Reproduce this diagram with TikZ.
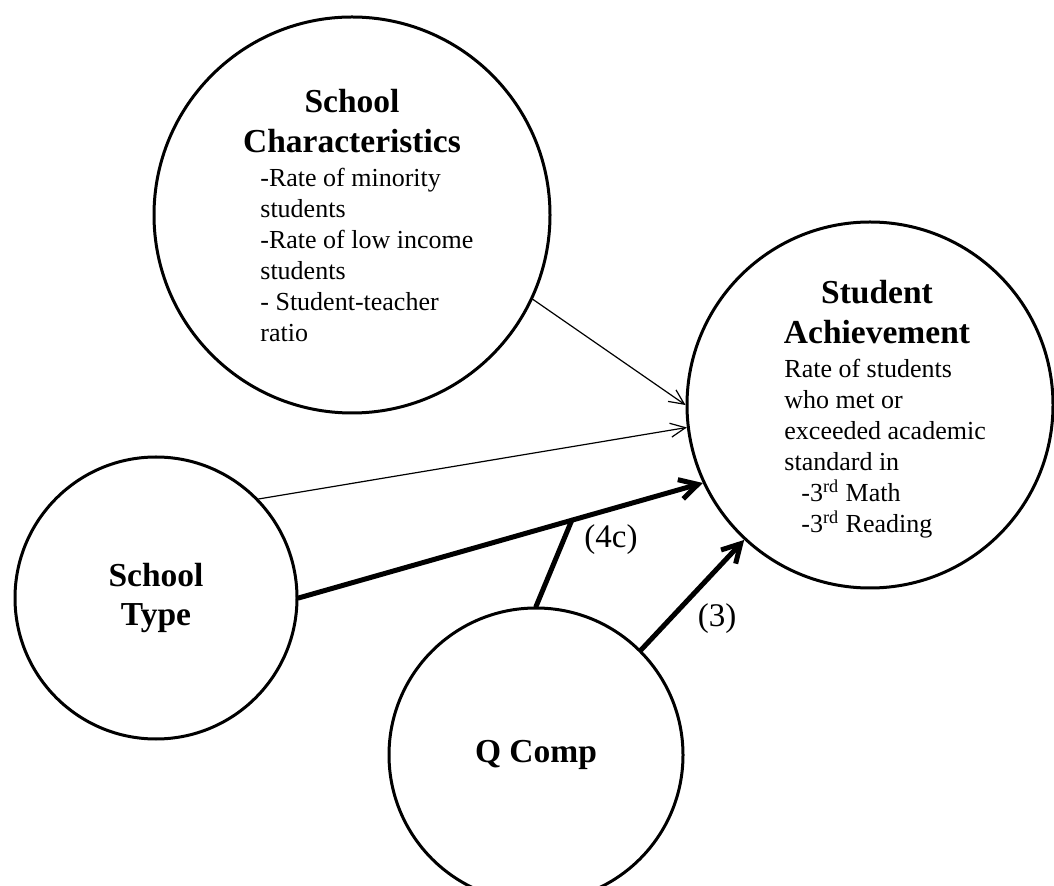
\documentclass[tikz,border=0pt]{standalone}
\usepackage{fontspec}
\setmainfont{Liberation Serif}
\usetikzlibrary{arrows.meta}

\tikzset{
  bubble/.style={draw, circle, line width=1.5pt, inner sep=0pt},
  head/.style={font=\fontsize{16.75}{19.75}\selectfont\bfseries, align=center, inner sep=0pt},
  body/.style={font=\fontsize{13}{15.5}\selectfont, align=left, inner sep=0pt, anchor=north west},
  lbl/.style={font=\fontsize{16.5}{19}\selectfont, inner sep=0pt},
  thinarrow/.style={line width=0.6pt, -{Straight Barb[length=7.5pt, width=7pt]}},
  thickarrow/.style={line width=2.5pt, -{Straight Barb[length=9pt, width=10pt]}},
  link/.style={line width=2.5pt}
}

\begin{document}
\begin{tikzpicture}[x=0.5pt, y=-0.5pt, line join=round, line cap=round]
\useasboundingbox (0,0) rectangle (1054,886);
% centres of the four circles
\path
(352,215) coordinate (C)
(870,405) coordinate (S)
(156,598) coordinate (T)
(536,755) coordinate (Q);
\node[bubble, minimum size=198pt] (chr) at (C) {};
\node[bubble, minimum size=183pt] (ach) at (S) {};
\node[bubble, head, minimum size=141pt] (typ) at (T) {School\\Type};
\node[bubble, head, minimum size=147pt] (qc) at (Q) {Q Comp};

% text inside the two big circles
\node[head, anchor=north] (chrhead) at (352,89) {School\\Characteristics};
\node[body] (chrbody) at (260,168) {-Rate of minority\\students\\-Rate of low income\\students\\- Student-teacher\\ratio};
\node[head, anchor=north] (achhead) at (877,280) {Student\\Achievement};
\node[body] (achbody) at (784,359) {Rate of students\\who met or\\exceeded academic\\standard in\\\hspace*{8.5pt}-3\textsuperscript{rd} Math\\\hspace*{8.5pt}-3\textsuperscript{rd} Reading};

% paths
\draw[thinarrow] (chr.-25) -- (ach.180);
\draw[thinarrow] (typ.44) -- (ach.187);
\draw[thickarrow] (typ.0) -- coordinate[pos=0.676] (M) (ach.205);
\draw[link] (qc.90) -- (M);
\draw[thickarrow] (qc.45) -- (ach.227);
\node[lbl] (l4c) at (611,540) {(4c)};
\node[lbl] (l3) at (717,619) {(3)};
\end{tikzpicture}
\end{document}
